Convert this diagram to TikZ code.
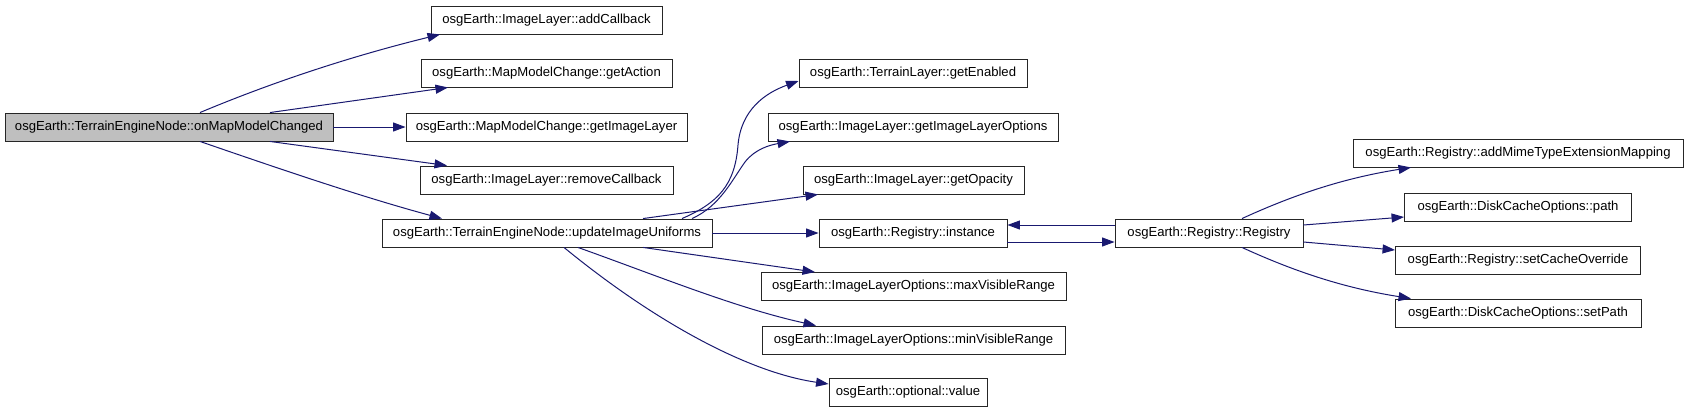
\documentclass[tikz,border=0pt]{standalone}
\usepackage{fontspec}
\newfontfamily\callfont{Liberation Sans}
\usetikzlibrary{arrows.meta}
\definecolor{edgeblue}{HTML}{191970}
\definecolor{rootgray}{HTML}{BFBFBF}

\tikzset{
  fnbox/.style={draw=black!85, line width=0.9pt, minimum height=28pt, inner xsep=3pt, inner ysep=0pt,
    font=\callfont\fontsize{13.1}{15}\selectfont},
  call/.style={edgeblue, line width=1pt, -{Triangle[length=12.5pt, width=9pt]}}
}

\begin{document}
\begin{tikzpicture}[x=1pt, y=-1pt]

  % Canvas
  \fill[white] (0,0) rectangle (1685,413);
  \useasboundingbox (0,0) rectangle (1685,413);

  % Caller
  \node[fnbox, fill=rootgray, minimum width=328pt] (onmapmodel) at (169,127) {osgEarth::TerrainEngineNode::onMapModelChanged};

  % Callees (name / x / y / width / text)
  \foreach \name/\px/\py/\w/\txt in {
    addcallback/546.5/20/231/osgEarth::ImageLayer::addCallback,
    getaction/546.5/73/251/osgEarth::MapModelChange::getAction,
    getimagelayer/546.5/127/281/osgEarth::MapModelChange::getImageLayer,
    removecallback/546.5/180/253/osgEarth::ImageLayer::removeCallback,
    updateuniforms/547/233/330/osgEarth::TerrainEngineNode::updateImageUniforms,
    getenabled/913/73/228/osgEarth::TerrainLayer::getEnabled,
    getlayeropts/913/127/290/osgEarth::ImageLayer::getImageLayerOptions,
    getopacity/913.5/180/221/osgEarth::ImageLayer::getOpacity,
    instance/913/233/188/osgEarth::Registry::instance,
    maxrange/913.5/286.5/305/osgEarth::ImageLayerOptions::maxVisibleRange,
    minrange/913.5/340/303/osgEarth::ImageLayerOptions::minVisibleRange,
    optvalue/908/392.5/158/osgEarth::optional::value,
    registry/1209/233/188/osgEarth::Registry::Registry,
    addmime/1518/153/330/osgEarth::Registry::addMimeTypeExtensionMapping,
    diskpath/1518/207/227/osgEarth::DiskCacheOptions::path,
    setcache/1518/260/245/osgEarth::Registry::setCacheOverride,
    setpath/1518/313/246/osgEarth::DiskCacheOptions::setPath
  } {
    \node[fnbox, minimum width=\w pt] (\name) at (\px,\py) {\txt};
  }

  % onMapModelChanged calls
  \draw[call] ([xshift=31pt]onmapmodel.north) .. controls (280,79) and (360,54) .. ([xshift=-106.5pt]addcallback.south);
  \draw[call] ([xshift=101pt]onmapmodel.north) -- ([xshift=-98.5pt]getaction.south);
  \draw[call] (onmapmodel.east) -- (getimagelayer.west);
  \draw[call] ([xshift=101pt]onmapmodel.south) -- ([xshift=-99.5pt]removecallback.north);
  \draw[call] ([xshift=31pt]onmapmodel.south) .. controls (280,169) and (362,197) .. ([xshift=-105pt]updateuniforms.north);

  % updateImageUniforms calls
  \draw[call] ([xshift=135pt]updateuniforms.north) .. controls (718,203) and (735,185) .. (738,145)
    .. controls (741,110) and (765,93) .. ([yshift=-8pt]getenabled.west);
  \draw[call] ([xshift=145pt]updateuniforms.north) .. controls (720,206) and (732,180) .. (745,162)
    .. controls (755,149) and (770,145) .. ([xshift=-123pt]getlayeropts.south);
  \draw[call] ([xshift=96pt]updateuniforms.north) -- ([xshift=-95.5pt]getopacity.south);
  \draw[call] (updateuniforms.east) -- (instance.west);
  \draw[call] ([xshift=96pt]updateuniforms.south) -- ([xshift=-98.5pt]maxrange.north);
  \draw[call] ([xshift=31pt]updateuniforms.south) .. controls (658,276) and (736,308) .. ([xshift=-97.5pt]minrange.north);
  \draw[call] ([xshift=17pt]updateuniforms.south) .. controls (650,318) and (745,372) .. ([yshift=8.5pt]optvalue.west);

  % instance <-> Registry
  \draw[call] ([yshift=-9pt]instance.east) -- ([yshift=-9pt]registry.west);
  \draw[call] ([yshift=8pt]registry.west) -- ([yshift=8pt]instance.east);

  % Registry calls
  \draw[call] ([xshift=33pt]registry.north) .. controls (1302,191) and (1351,177) .. ([xshift=-107pt]addmime.south);
  \draw[call] ([yshift=8pt]registry.east) -- ([yshift=-10pt]diskpath.west);
  \draw[call] ([yshift=-9pt]registry.east) -- ([yshift=10pt]setcache.west);
  \draw[call] ([xshift=33pt]registry.south) .. controls (1302,275) and (1351,289) .. ([xshift=-107pt]setpath.north);

\end{tikzpicture}
\end{document}
